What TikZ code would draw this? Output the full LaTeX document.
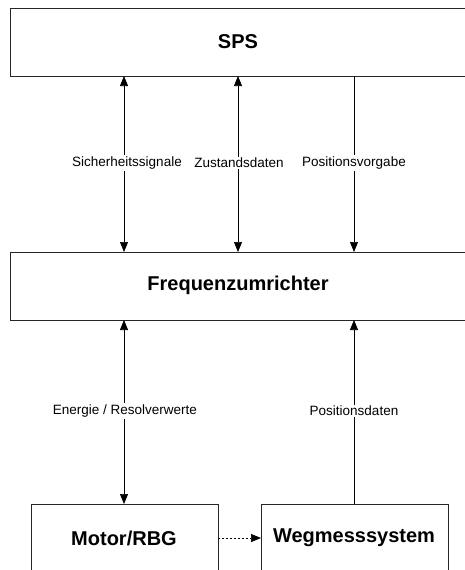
\documentclass[tikz,border=0pt]{standalone}
\usepackage{fontspec}
\setmainfont{Liberation Sans}
\usetikzlibrary{arrows.meta}
\begin{document}
\begin{tikzpicture}[x=1pt,y=-1pt,
  blk/.style={draw=black!85,line width=0.9pt,inner sep=0pt,anchor=north west},
  ttl/.style={font=\fontsize{20}{24}\selectfont\bfseries},
  lbl/.style={font=\fontsize{13.5}{16}\selectfont,fill=white,inner sep=1.5pt},
  conn/.style={line width=0.7pt,-{Triangle[length=10pt,width=8pt]}},
  bconn/.style={line width=0.7pt,{Triangle[length=10pt,width=8pt]}-{Triangle[length=10pt,width=8pt]}}]
\useasboundingbox (0,0) rectangle (465,570);
\clip (0,0) rectangle (465,570);
\node[blk,minimum width=470pt,minimum height=68pt] (sps) at (10,8) {};
\node[blk,minimum width=470pt,minimum height=68pt] (fu) at (10,252) {};
\node[blk,minimum width=187pt,minimum height=80pt] (mot) at (31,504) {};
\node[blk,minimum width=187pt,minimum height=80pt] (weg) at (261,504) {};
\node[ttl] (tsps) at (238,42) {SPS};
\node[ttl] (tfu) at (238,285) {Frequenzumrichter};
\node[ttl] (tmot) at (124,538) {Motor/RBG};
\node[ttl] (tweg) at (354,538) {Wegmesssystem};
\coordinate (s1) at (124,76); \coordinate (f1) at (124,252);
\coordinate (s2) at (238,76); \coordinate (f2) at (238,252);
\coordinate (s3) at (354,76); \coordinate (f3) at (354,252);
\coordinate (f4) at (124,320); \coordinate (m4) at (124,504);
\coordinate (f5) at (354,320); \coordinate (w5) at (354,504);
\coordinate (m6) at (218,538); \coordinate (w6) at (261,538);
\draw[bconn] (s1) -- (f1);
\draw[bconn] (s2) -- (f2);
\draw[conn] (s3) -- (f3);
\draw[bconn] (f4) -- (m4);
\draw[conn] (w5) -- (f5);
\draw[conn,dashed,dash pattern=on 2pt off 2pt] (m6) -- (w6);
\node[lbl] (l1) at (127,163) {Sicherheitssignale};
\node[lbl] (l2) at (239,163) {Zustandsdaten};
\node[lbl] (l3) at (354,163) {Positionsvorgabe};
\node[lbl] (l4) at (125,411) {Energie / Resolverwerte};
\node[lbl] (l5) at (354,411) {Positionsdaten};
\end{tikzpicture}
\end{document}
